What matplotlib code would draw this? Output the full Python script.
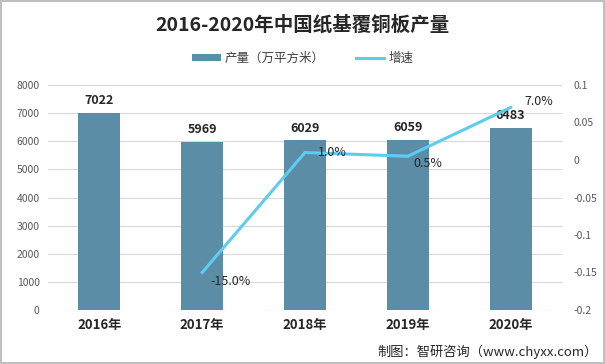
import matplotlib.pyplot as plt
import numpy as np

plt.rcParams['font.family'] = ['Noto Sans CJK SC', 'DejaVu Sans']

years = ['2016年', '2017年', '2018年', '2019年', '2020年']
output = [7022, 5969, 6029, 6059, 6483]
growth = [None, -0.15, 0.01, 0.005, 0.07]
growth_labels = ['', '-15.0%', '1.0%', '0.5%', '7.0%']

bar_color = '#5b8ea6'
line_color = '#5ecbef'
tick_color = '#595959'

fig = plt.figure(figsize=(6.05, 3.64), dpi=100)
fig.patch.set_edgecolor('#bfbfbf')
fig.patch.set_linewidth(1.5)
ax = fig.add_axes([48/605, 1 - 310/364, 514/605, 225/364])
ax2 = ax.twinx()

x = np.arange(len(years))
bars = ax.bar(x, output, width=0.41, color=bar_color, label='产量（万平方米）', zorder=2)
ax.set_ylim(0, 8000)
ax.set_yticks(range(0, 8001, 1000))
ax.set_xlim(-0.5, 4.5)
ax.grid(axis='y', color='#d9d9d9', linewidth=0.8, zorder=0)
ax.set_axisbelow(True)
ax.set_xticks(x)
ax.set_xticklabels(years, fontsize=9.5, fontweight='bold', color='#262626')
ax.tick_params(axis='x', length=0, pad=6)
ax.tick_params(axis='y', length=0, labelsize=7.5, labelcolor=tick_color, pad=6)
for s in ax.spines.values():
    s.set_visible(False)
for xi, v in zip(x, output):
    ax.text(xi, v + 200, str(v), ha='center', va='bottom', fontsize=9,
            fontweight='bold', color='#262626')

gx = x[1:]
gy = [g for g in growth if g is not None]
ax2.plot(gx, gy, color=line_color, linewidth=2.2, label='增速', zorder=3)
ax2.set_ylim(-0.2, 0.1)
ax2.set_yticks([-0.2, -0.15, -0.1, -0.05, 0, 0.05, 0.1])
ax2.set_yticklabels(['-0.2', '-0.15', '-0.1', '-0.05', '0', '0.05', '0.1'])
ax2.tick_params(axis='y', length=0, labelsize=7.5, labelcolor=tick_color, pad=8)
for s in ax2.spines.values():
    s.set_visible(False)

# label offsets (dx in categories, dy in growth units)
offsets = {1: (0.08, -0.012),
           2: (0.13, 0.0),
           3: (0.05, -0.01),
           4: (0.13, 0.008)}
for i in range(1, 5):
    dx, dy = offsets[i]
    ax2.text(x[i] + dx, growth[i] + dy, growth_labels[i], ha='left', va='center',
             fontsize=9, color='#262626')

fig.text(0.5, 1 - 25/364, '2016-2020年中国纸基覆铜板产量', ha='center', va='center',
         fontsize=14, fontweight='bold', color='#262626')

h1, l1 = ax.get_legend_handles_labels()
h2, l2 = ax2.get_legend_handles_labels()
fig.legend(h1 + h2, l1 + l2, loc='center', bbox_to_anchor=(0.5, 1 - 58/364),
           ncol=2, frameon=False, fontsize=9, handlelength=2.3, handleheight=0.5,
           handletextpad=0.3, columnspacing=2.5, labelcolor='#404040')

fig.text(598/605, 1 - 352/364, '制图：智研咨询（www.chyxx.com）', ha='right', va='center',
         fontsize=9.5, color='#262626')

fig.savefig('out.png', dpi=100)
